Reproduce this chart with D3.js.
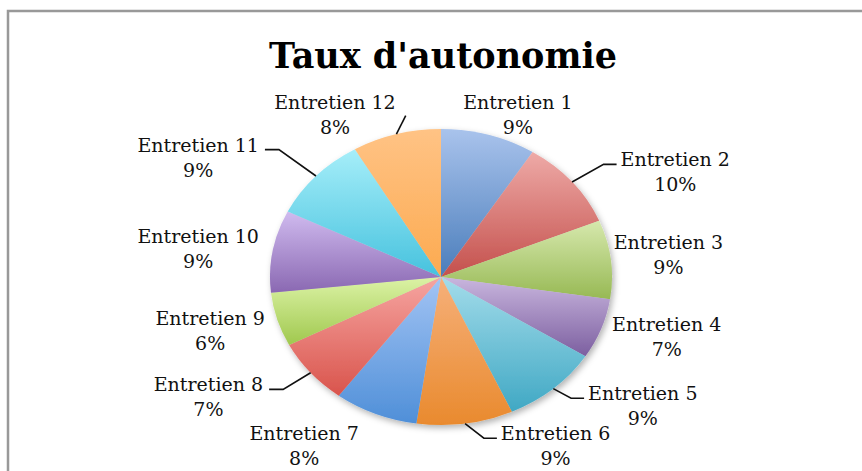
<!DOCTYPE html>
<html>
<head>
<meta charset="utf-8">
<script src="https://cdn.jsdelivr.net/npm/d3@7"></script>
<style>
  body { margin: 0; background: #fff; }
  svg { display: block; }
</style>
</head>
<body>
<div id="chart"></div>
<script>
// Data: share of each interview
var categories = ['Entretien 1', 'Entretien 2', 'Entretien 3', 'Entretien 4', 'Entretien 5', 'Entretien 6',
                  'Entretien 7', 'Entretien 8', 'Entretien 9', 'Entretien 10', 'Entretien 11', 'Entretien 12'];
var values = [9.0, 9.8, 8.6, 6.6, 9.2, 9.1, 7.9, 7.2, 5.9, 9.0, 9.3, 8.4];
var pctLabels = ['9%', '10%', '9%', '7%', '9%', '9%', '8%', '7%', '6%', '9%', '9%', '8%'];

// Styles: gradient top / bottom colours per slice
var topColors = ['#a9c3ec', '#eeaaa7', '#d6e8ad', '#c9b6de', '#a3dcea', '#f6b07a',
                 '#a3c4f4', '#f6a5a1', '#dcf3a6', '#d0bbef', '#a6eef9', '#ffc385'];
var bottomColors = ['#4a7dbb', '#c4504c', '#97b954', '#7c5fa0', '#40a8c4', '#e98a2e',
                    '#4f8fd8', '#d9544c', '#a0c84e', '#8a68b2', '#46c2de', '#fcaa50'];

// Layout: label block centre in ellipse-radius units, and leader style (0 none, 1 elbow, 2 straight)
var labelPos = [[0.45, -1.10], [1.37, -0.71], [1.33, -0.15], [1.32, 0.40], [1.18, 0.87], [0.67, 1.14],
                [-0.80, 1.14], [-1.36, 0.81], [-1.35, 0.36], [-1.42, -0.19], [-1.42, -0.81], [-0.62, -1.10]];
var leaders = [0, 1, 0, 0, 1, 1, 0, 1, 0, 0, 1, 2];

var width = 862, height = 471;
var cx = 441, cy = 277, rx = 171, ry = 148;

var svg = d3.select('#chart').append('svg')
    .attr('width', width)
    .attr('height', height);

var defs = svg.append('defs');

// soft shadow under the pie
var shadow = defs.append('filter')
    .attr('id', 'shadow')
    .attr('x', '-20%').attr('y', '-20%')
    .attr('width', '140%').attr('height', '140%');
shadow.append('feDropShadow')
    .attr('dx', 2).attr('dy', 3)
    .attr('stdDeviation', 3)
    .attr('flood-color', '#000')
    .attr('flood-opacity', 0.3);

categories.forEach(function(c, i) {
    var g = defs.append('linearGradient')
        .attr('id', 'grad' + i)
        .attr('x1', 0).attr('y1', 0)
        .attr('x2', 0).attr('y2', 1);
    g.append('stop').attr('offset', '0%').attr('stop-color', topColors[i]);
    g.append('stop').attr('offset', '100%').attr('stop-color', bottomColors[i]);
});

// chart frame (only top and left edges are inside the picture)
svg.append('rect')
    .attr('x', 8).attr('y', 11)
    .attr('width', 900).attr('height', 500)
    .attr('fill', 'none')
    .attr('stroke', '#999')
    .attr('stroke-width', 2.5);

// Title
svg.append('text')
    .attr('x', cx + 2)
    .attr('y', 68)
    .attr('text-anchor', 'middle')
    .style('font-family', '"DejaVu Serif", serif')
    .style('font-weight', 'bold')
    .style('font-size', '35px')
    .attr('fill', '#000')
    .text("Taux d'autonomie");

// Pie
var pie = d3.pie().sort(null).value(function(d) { return d; });
var arcs = pie(values);

var arc = d3.arc()
    .innerRadius(0)
    .outerRadius(ry);

var pieG = svg.append('g')
    .attr('filter', 'url(#shadow)')
    .append('g')
    .attr('transform', 'translate(' + cx + ',' + cy + ') scale(' + (rx / ry) + ',1)');

pieG.selectAll('path.slice')
    .data(arcs)
    .enter()
    .append('path')
    .attr('class', 'slice')
    .attr('d', arc)
    .attr('fill', function(d, i) { return 'url(#grad' + i + ')'; });

// Labels
var labelG = svg.append('g')
    .style('font-family', '"DejaVu Serif", serif')
    .style('font-size', '19px')
    .attr('fill', '#111');

var lineGap = 25;

arcs.forEach(function(d, i) {
    var lx = cx + labelPos[i][0] * rx;
    var ly = cy + labelPos[i][1] * ry;
    var firstMid = ly - lineGap / 2;

    var t = labelG.append('text')
        .attr('text-anchor', 'middle');
    t.append('tspan')
        .attr('x', lx)
        .attr('y', firstMid + 7)
        .text(categories[i]);
    t.append('tspan')
        .attr('x', lx)
        .attr('y', firstMid + lineGap + 7)
        .text(pctLabels[i]);

    if (leaders[i] === 0) return;

    var w = t.select('tspan').node().getComputedTextLength();
    var mid = (d.startAngle + d.endAngle) / 2;
    var sx = cx + rx * Math.sin(mid);
    var sy = cy - ry * Math.cos(mid);
    var right = labelPos[i][0] > 0;
    var pts;
    if (leaders[i] === 1) {
        var ex = right ? lx - w / 2 - 4 : lx + w / 2 + 6;
        var ey = firstMid + 5;
        var bx = right ? ex - 13 : ex + 14;
        pts = [[sx, sy], [bx, ey], [ex, ey]];
    } else {
        pts = [[sx, sy], [lx + w / 2 + 10, firstMid + 14]];
    }
    svg.append('path')
        .attr('d', d3.line()(pts))
        .attr('fill', 'none')
        .attr('stroke', '#111')
        .attr('stroke-width', 1.6);
});
</script>
</body>
</html>
